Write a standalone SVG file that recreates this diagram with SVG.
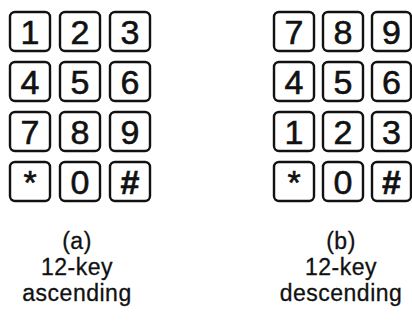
<svg xmlns="http://www.w3.org/2000/svg" width="412" height="327" viewBox="0 0 412 327">
<style>
.k rect{fill:#fff;stroke:#111;stroke-width:2.4;}
.k text{font-family:"Liberation Sans",Arial,sans-serif;font-size:34px;fill:#111;stroke:#111;stroke-width:0.6;text-anchor:middle;}
.lbl{font-family:"Liberation Sans",Arial,sans-serif;font-size:23px;letter-spacing:0.5px;fill:#111;stroke:#111;stroke-width:0.3;text-anchor:middle;}
</style>
<rect width="412" height="327" fill="#fff"/>
<g id="keypad-a">
<g id="a1" class="k"><rect x="10" y="12" width="40" height="39" rx="5"/><text x="30" y="43.5">1</text></g>
<g id="a2" class="k"><rect x="60" y="12" width="40" height="39" rx="5"/><text x="80" y="43.5">2</text></g>
<g id="a3" class="k"><rect x="110" y="12" width="40" height="39" rx="5"/><text x="130" y="43.5">3</text></g>
<g id="a4" class="k"><rect x="10" y="62" width="40" height="39" rx="5"/><text x="30" y="93.5">4</text></g>
<g id="a5" class="k"><rect x="60" y="62" width="40" height="39" rx="5"/><text x="80" y="93.5">5</text></g>
<g id="a6" class="k"><rect x="110" y="62" width="40" height="39" rx="5"/><text x="130" y="93.5">6</text></g>
<g id="a7" class="k"><rect x="10" y="112" width="40" height="39" rx="5"/><text x="30" y="143.5">7</text></g>
<g id="a8" class="k"><rect x="60" y="112" width="40" height="39" rx="5"/><text x="80" y="143.5">8</text></g>
<g id="a9" class="k"><rect x="110" y="112" width="40" height="39" rx="5"/><text x="130" y="143.5">9</text></g>
<g id="astar" class="k"><rect x="10" y="162" width="40" height="39" rx="5"/><text x="30" y="193.5">*</text></g>
<g id="a0" class="k"><rect x="60" y="162" width="40" height="39" rx="5"/><text x="80" y="193.5">0</text></g>
<g id="ahash" class="k"><rect x="110" y="162" width="40" height="39" rx="5"/><text x="130" y="193.5" font-weight="bold">#</text></g>
</g>
<g id="keypad-b">
<g id="b7" class="k"><rect x="274" y="12" width="40" height="39" rx="5"/><text x="294" y="43.5">7</text></g>
<g id="b8" class="k"><rect x="323" y="12" width="40" height="39" rx="5"/><text x="343" y="43.5">8</text></g>
<g id="b9" class="k"><rect x="372" y="12" width="39" height="39" rx="5"/><text x="391.5" y="43.5">9</text></g>
<g id="b4" class="k"><rect x="274" y="62" width="40" height="39" rx="5"/><text x="294" y="93.5">4</text></g>
<g id="b5" class="k"><rect x="323" y="62" width="40" height="39" rx="5"/><text x="343" y="93.5">5</text></g>
<g id="b6" class="k"><rect x="372" y="62" width="39" height="39" rx="5"/><text x="391.5" y="93.5">6</text></g>
<g id="b1" class="k"><rect x="274" y="112" width="40" height="39" rx="5"/><text x="294" y="143.5">1</text></g>
<g id="b2" class="k"><rect x="323" y="112" width="40" height="39" rx="5"/><text x="343" y="143.5">2</text></g>
<g id="b3" class="k"><rect x="372" y="112" width="39" height="39" rx="5"/><text x="391.5" y="143.5">3</text></g>
<g id="bstar" class="k"><rect x="274" y="162" width="40" height="39" rx="5"/><text x="294" y="193.5">*</text></g>
<g id="b0" class="k"><rect x="323" y="162" width="40" height="39" rx="5"/><text x="343" y="193.5">0</text></g>
<g id="bhash" class="k"><rect x="372" y="162" width="39" height="39" rx="5"/><text x="391.5" y="193.5" font-weight="bold">#</text></g>
</g>
<g id="label-a">
<text class="lbl" x="77" y="249">(a)</text>
<text class="lbl" x="77" y="275">12-key</text>
<text class="lbl" x="77" y="301">ascending</text>
</g>
<g id="label-b">
<text class="lbl" x="341" y="249">(b)</text>
<text class="lbl" x="341" y="275">12-key</text>
<text class="lbl" x="341" y="301">descending</text>
</g>
</svg>
